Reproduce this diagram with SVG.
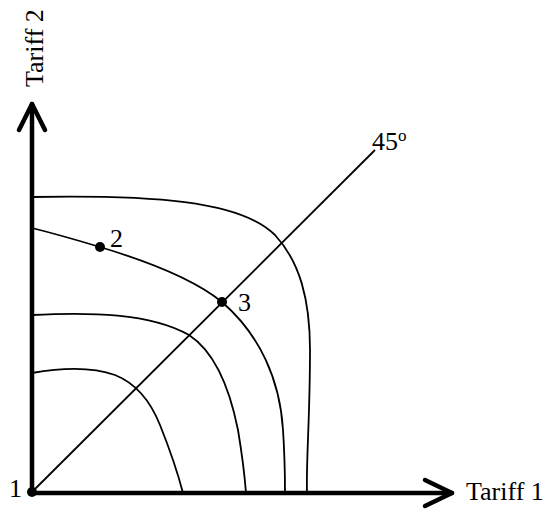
<svg xmlns="http://www.w3.org/2000/svg" width="550" height="511" viewBox="0 0 550 511">
<style>
.axis{fill:none;stroke:#000;stroke-width:4.5;stroke-linecap:round;stroke-linejoin:round}
.curve{fill:none;stroke:#000;stroke-width:1.8}
.lbl{font-family:"Liberation Serif","Times New Roman",serif;font-size:26px;fill:#000}
.dot{fill:#000}
</style>
<rect width="550" height="511" fill="#fff"/>
<g id="connectors">
<path class="curve" d="M32,492 L375,150"/>
<path id="curve-a" class="curve" d="M32,197 C150,195 240,200 275,235 C300,262 310,300 310,350 C310,420 306,460 307,493"/>
<path id="curve-b" class="curve" d="M32,228 C60,235 80,241 100,247 C150,262 195,280 222,302 C260,335 280,380 283,430 C285,460 285,475 285,493"/>
<path id="curve-c" class="curve" d="M32,315 C90,312 150,313 189,335 C215,352 230,390 238,430 C243,460 245,480 246,493"/>
<path id="curve-d" class="curve" d="M32,373 C60,368 90,366 115,375 C135,383 150,400 160,425 C170,450 177,470 183,493"/>
</g>
<g id="axis-y">
<path class="axis" d="M32,493 L32,104"/>
<path class="axis" d="M19,130 L32,104 L45,130"/>
<text class="lbl" transform="translate(43,87) rotate(-90)">Tariff 2</text>
</g>
<g id="axis-x">
<path class="axis" d="M32,493 L452,493"/>
<path class="axis" d="M425,480 L452,493 L425,506"/>
<text class="lbl" x="466" y="500">Tariff 1</text>
</g>
<g id="node-1">
<circle class="dot" cx="32" cy="492" r="5"/>
<text class="lbl" x="9" y="497">1</text>
</g>
<g id="node-2">
<circle class="dot" cx="100" cy="247" r="5"/>
<text class="lbl" x="110" y="247">2</text>
</g>
<g id="node-3">
<circle class="dot" cx="222" cy="302" r="5"/>
<text class="lbl" x="238" y="311">3</text>
</g>
<g id="label-45">
<text class="lbl" x="372" y="150">45<tspan font-size="17" dy="-9">o</tspan></text>
</g>
</svg>
